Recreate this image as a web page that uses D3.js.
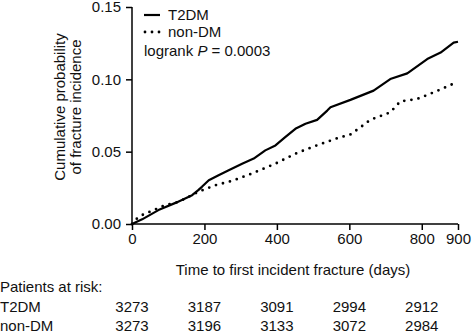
<!DOCTYPE html>
<html>
<head>
<meta charset="utf-8">
<script src="https://cdn.jsdelivr.net/npm/d3@7"></script>
<style>
body { margin: 0; background: #fff; }
text { font-family: "Liberation Sans", Arial, sans-serif; fill: #111; }
</style>
</head>
<body>
<div id="chart"></div>
<script>
// Cumulative incidence (days, probability)
const t2dm = [
[0, 0], [28, 0.0032], [73, 0.0096], [120, 0.0146], [166, 0.0199], [183, 0.0234],
[193, 0.0257], [212, 0.0303], [239, 0.0337], [267, 0.0371], [304, 0.0417],
[336, 0.0452], [368, 0.0509], [396, 0.0543], [423, 0.06], [451, 0.0658],
[479, 0.0693], [511, 0.072], [539, 0.0784], [548, 0.0807], [603, 0.0858],
[667, 0.0922], [713, 0.1002], [760, 0.1041], [815, 0.114], [852, 0.1185],
[888, 0.1254], [900, 0.126]
];
const nonDM = [
[0, 0], [14, 0.0039], [28, 0.0062], [92, 0.0131], [129, 0.0153], [183, 0.0222],
[202, 0.0241], [230, 0.0268], [276, 0.0298], [331, 0.0349], [396, 0.0417],
[451, 0.0486], [502, 0.0536], [562, 0.0589], [603, 0.0619], [631, 0.0669],
[658, 0.072], [713, 0.0772], [741, 0.0848], [787, 0.0864], [833, 0.091],
[886, 0.0968]
];

const xTicks = [0, 200, 400, 600, 800, 900];
const yTicks = [0, 0.05, 0.10, 0.15];

// Patients at risk table
const riskDays = [0, 200, 400, 600, 800];
const riskT2DM = [3273, 3187, 3091, 2994, 2912];
const riskNonDM = [3273, 3196, 3133, 3072, 2984];

const fs = "15px";

const margin = {top: 7, right: 14, bottom: 109, left: 132},
width = 472 - margin.left - margin.right,
height = 333 - margin.top - margin.bottom;

const svg = d3.select("#chart")
.append("svg")
.attr("width", 472)
.attr("height", 333);

const g = svg.append("g")
.attr("transform", `translate(${margin.left},${margin.top})`);

const x = d3.scaleLinear().domain([0, 900]).range([0, width]);
const y = d3.scaleLinear().domain([0, 0.15]).range([height, 0]);

const line = d3.line()
.x(d => x(d[0]))
.y(d => y(d[1]));

// Axes
const xAxis = g.append("g")
.attr("transform", `translate(0,${height})`)
.call(d3.axisBottom(x).tickValues(xTicks).tickSize(6).tickPadding(3).tickFormat(d3.format("d")));

const yAxis = g.append("g")
.call(d3.axisLeft(y).tickValues(yTicks).tickSize(6).tickPadding(5).tickFormat(d3.format(".2f")));

[xAxis, yAxis].forEach(a => {
a.select(".domain").attr("stroke", "#000").attr("stroke-width", 1.5);
a.selectAll(".tick line").attr("stroke", "#000").attr("stroke-width", 1.5);
a.selectAll(".tick text").style("font-size", fs).attr("fill", "#111")
.style("font-family", "Liberation Sans, Arial, sans-serif");
});
yAxis.select(".domain").attr("d", `M0,${height}V0`);
xAxis.select(".domain").attr("d", `M0,0H${width}`);

// Curves
g.append("path")
.datum(nonDM)
.attr("d", line)
.attr("fill", "none")
.attr("stroke", "#000")
.attr("stroke-width", 2.8)
.attr("stroke-linecap", "round")
.attr("stroke-dasharray", "0 7.2");

g.append("path")
.datum(t2dm)
.attr("d", line)
.attr("fill", "none")
.attr("stroke", "#000")
.attr("stroke-width", 2.2)
.attr("stroke-linejoin", "round");

// Axis titles
svg.append("text")
.attr("x", margin.left + width / 2 - 2)
.attr("y", 275)
.attr("text-anchor", "middle")
.style("font-size", fs)
.text("Time to first incident fracture (days)");

const yTitle = svg.append("text")
.attr("transform", "translate(65,107) rotate(-90)")
.attr("text-anchor", "middle")
.style("font-size", fs);
yTitle.append("tspan").attr("x", 0).attr("y", 0).text("Cumulative probability");
yTitle.append("tspan").attr("x", 0).attr("y", 16).text("of fracture incidence");

// Legend
const legend = g.append("g").attr("transform", "translate(12,8)");
legend.append("line")
.attr("x1", 0).attr("x2", 16).attr("y1", 0).attr("y2", 0)
.attr("stroke", "#000").attr("stroke-width", 2.2);
legend.append("text").attr("x", 24).attr("y", 5).style("font-size", fs).text("T2DM");
legend.append("line")
.attr("x1", 1).attr("x2", 16).attr("y1", 17).attr("y2", 17)
.attr("stroke", "#000").attr("stroke-width", 2.8)
.attr("stroke-linecap", "round").attr("stroke-dasharray", "0 7");
legend.append("text").attr("x", 24).attr("y", 22).style("font-size", fs).text("non-DM");
const lr = legend.append("text").attr("x", 0).attr("y", 41).style("font-size", fs);
lr.append("tspan").text("logrank ");
lr.append("tspan").style("font-style", "italic").text("P");
lr.append("tspan").text(" = 0.0003");

// Patients at risk
svg.append("text").attr("x", 0).attr("y", 292).style("font-size", fs).text("Patients at risk:");
const rows = [["T2DM", riskT2DM, 312], ["non-DM", riskNonDM, 331]];
rows.forEach(([name, vals, yy]) => {
svg.append("text").attr("x", 0).attr("y", yy).style("font-size", fs).text(name);
svg.selectAll(null)
.data(vals)
.enter()
.append("text")
.attr("x", (d, i) => margin.left + x(riskDays[i]))
.attr("y", yy)
.attr("text-anchor", "middle")
.style("font-size", fs)
.text(d => d);
});
</script>
</body>
</html>
